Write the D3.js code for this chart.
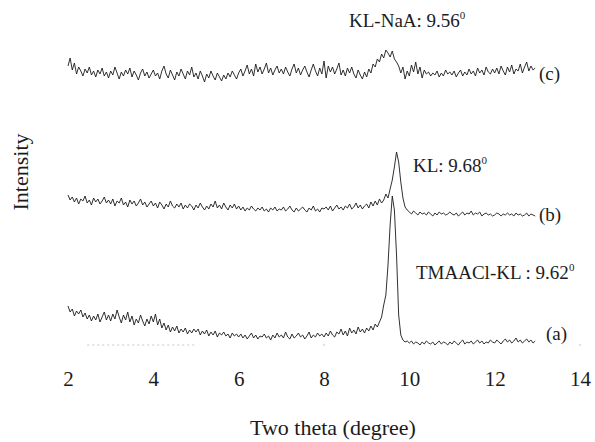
<!DOCTYPE html>
<html>
<head>
<meta charset="utf-8">
<script src="https://cdn.jsdelivr.net/npm/d3@7"></script>
<style>
  html, body { margin: 0; padding: 0; background: #fff; }
  svg { display: block; }
  text { font-family: "Liberation Serif", "DejaVu Serif", serif; fill: #1c1c1c; }
</style>
</head>
<body>
<svg id="chart" width="595" height="442"></svg>
<script>
// XRD scan grid: 2.00 .. 12.95 degrees two-theta, 0.05 degree step
const twoTheta = d3.range(0, 220).map(i => +(2 + i * 0.05).toFixed(2));

// Stacked intensities (a.u.), one row per degree of two-theta
// (c) KL-NaA
const seriesC = [
  284, 292, 280, 287, 276, 283, 279, 274, 281, 277, 283, 275, 279, 273, 280, 276, 282, 274, 278, 272,
  279, 275, 283, 277, 271, 278, 274, 280, 276, 282, 273, 279, 275, 270, 277, 281, 274, 278, 272, 276,
  280, 274, 277, 271, 279, 284, 276, 272, 280, 275, 270, 278, 274, 281, 276, 271, 279, 275, 283, 273,
  277, 271, 279, 274, 268, 276, 272, 279, 274, 270, 277, 273, 269, 275, 271, 277, 273, 279, 275, 271,
  277, 281, 274, 279, 285, 276, 281, 274, 286, 278, 283, 276, 281, 287, 277, 282, 275, 280, 284, 277,
  281, 276, 283, 278, 274, 281, 286, 277, 282, 275, 280, 284, 278, 273, 280, 286, 279, 274, 282, 276,
  289, 272, 284, 278, 283, 276, 281, 287, 275, 280, 274, 282, 277, 283, 276, 272, 280, 275, 271, 278,
  273, 281, 277, 286, 283, 291, 288, 296, 292, 300, 297, 293, 299, 291, 288, 284, 277, 283, 271, 279,
  274, 285, 278, 288, 276, 283, 272, 280, 276, 278, 274, 277, 275, 279, 273, 277, 274, 280, 276, 278,
  275, 279, 273, 277, 280, 274, 278, 275, 281, 276, 279, 274, 282, 277, 280, 275, 283, 278, 276, 281,
  277, 282, 276, 284, 279, 275, 283, 278, 285, 276, 281, 279, 286, 277, 283, 288, 279, 284, 280, 282
];
// (b) KL
const seriesB = [
  155, 150, 153, 148, 152, 146, 151, 149, 154, 147, 150, 145, 152, 148, 151, 146, 149, 153, 147, 150,
  146, 151, 144, 149, 147, 152, 145, 148, 143, 150, 146, 149, 144, 147, 151, 145, 148, 143, 146, 149,
  144, 147, 142, 148, 145, 141, 146, 143, 149, 144, 142, 146, 143, 147, 141, 145, 142, 146, 144, 140,
  145, 142, 147, 143, 140, 144, 141, 146, 143, 149, 142, 145, 141, 147, 143, 140, 145, 142, 146, 141,
  144, 140, 143, 139, 142, 140, 144, 141, 139, 142, 140, 143, 139, 141, 138, 142, 140, 143, 139, 141,
  140, 143, 139, 141, 144, 140, 138, 142, 139, 141, 143, 140, 138, 142, 140, 144, 139, 141, 138, 142,
  141, 143, 140, 144, 139, 142, 145, 141, 143, 140, 144, 142, 146, 141, 143, 147, 142, 145, 141, 144,
  146, 142, 148, 144, 149, 145, 151, 147, 150, 156, 152, 161, 170, 183, 198, 188, 168, 152, 143, 140,
  138, 136, 139, 137, 135, 138, 136, 137, 135, 138, 136, 134, 137, 135, 138, 136, 137, 135, 136, 138,
  136, 135, 137, 134, 136, 138, 135, 137, 136, 139, 135, 137, 136, 138, 134, 136, 137, 135, 136, 134,
  135, 137, 136, 134, 136, 135, 137, 135, 136, 134, 137, 135, 136, 134, 135, 137, 134, 136, 135, 134
];
// (a) TMAACl-KL
const seriesA = [
  44, 38, 41, 34, 39, 36, 40, 33, 37, 31, 35, 29, 34, 30, 36, 28, 33, 38, 30, 35,
  29, 36, 31, 40, 33, 27, 35, 30, 38, 28, 34, 25, 31, 27, 35, 29, 24, 31, 26, 34,
  28, 36, 25, 31, 22, 27, 20, 25, 18, 23, 19, 24, 17, 21, 18, 22, 16, 20, 17, 21,
  18, 21, 15, 19, 16, 20, 14, 18, 15, 19, 13, 17, 15, 18, 14, 16, 12, 17, 14, 16,
  13, 16, 12, 15, 11, 14, 17, 12, 15, 11, 14, 13, 16, 12, 14, 10, 15, 12, 17, 13,
  15, 12, 18, 13, 11, 16, 12, 14, 17, 13, 15, 11, 14, 18, 12, 15, 13, 17, 14, 16,
  13, 17, 14, 19, 15, 13, 18, 16, 21, 15, 19, 14, 22, 17, 20, 16, 23, 18, 21, 17,
  22, 19, 24, 20, 26, 23, 28, 33, 45, 55, 85, 125, 154, 140, 95, 35, 15, 10, 8, 9,
  7, 9, 6, 8, 7, 5, 8, 6, 9, 7, 6, 8, 5, 7, 9, 6, 8, 7, 5, 8,
  6, 9, 7, 5, 8, 10, 6, 8, 7, 9, 6, 8, 10, 7, 9, 6, 8, 7, 10, 8,
  7, 10, 8, 6, 9, 11, 8, 10, 7, 9, 12, 8, 10, 7, 9, 11, 8, 10, 7, 9
];

const xTicks = [2, 4, 6, 8, 10, 12, 14];
const sampleTags = ["(c)", "(b)", "(a)"];
const peakNames = ["KL-NaA: 9.56", "KL: 9.68", "TMAACl-KL : 9.62"];

const svg = d3.select("#chart");
svg.append("rect").attr("width", 595).attr("height", 442).attr("fill", "#fff");

const x = d3.scaleLinear().domain([2, 14]).range([68, 580]);
const y = d3.scaleLinear().domain([0, 310]).range([350, 40]);

// faint remnants of the frame
const frame = svg.append("g").attr("stroke", "#c8c8c8").attr("stroke-width", 1);
frame.append("line")
  .attr("x1", x(2.45)).attr("x2", x(5.0))
  .attr("y1", y(5)).attr("y2", y(5))
  .attr("stroke-dasharray", "2,3");
[8, 14].forEach(v => {
  frame.append("line")
    .attr("x1", x(v) - 1).attr("x2", x(v) + 1)
    .attr("y1", y(5)).attr("y2", y(5));
});

// x axis: labels only
const xAxis = d3.axisBottom(x).tickValues(xTicks).tickSize(0).tickPadding(0)
  .tickFormat(d3.format("d"));
const gx = svg.append("g").attr("transform", "translate(0,371)").call(xAxis);
gx.select(".domain").remove();
gx.selectAll("text")
  .attr("font-family", "Liberation Serif, serif")
  .attr("font-size", 21)
  .attr("fill", "#1c1c1c")
  .attr("dy", "0.71em");

// traces
const line = d3.line().x((d, i) => x(twoTheta[i])).y(d => y(d));
[seriesC, seriesB, seriesA].forEach(s => {
  svg.append("path")
    .datum(s)
    .attr("d", line)
    .attr("fill", "none")
    .attr("stroke", "#1a1a1a")
    .attr("stroke-width", 0.9)
    .attr("stroke-linejoin", "round");
});

// peak annotations with a superscript degree zero
const peakPos = [[349, 27], [413, 172], [416, 279]];
peakNames.forEach((t, i) => {
  const txt = svg.append("text")
    .attr("x", peakPos[i][0]).attr("y", peakPos[i][1])
    .attr("font-size", 19);
  txt.append("tspan").text(t);
  txt.append("tspan").attr("font-size", 11).attr("dy", -8).text("0");
});

// sample tags
const tagPos = [[539, 80], [539, 221], [546, 340]];
sampleTags.forEach((t, i) => {
  svg.append("text")
    .attr("x", tagPos[i][0]).attr("y", tagPos[i][1])
    .attr("font-size", 19)
    .text(t);
});

// axis titles
svg.append("text")
  .attr("x", 333).attr("y", 435)
  .attr("text-anchor", "middle")
  .attr("font-size", 22)
  .text("Two theta (degree)");

svg.append("text")
  .attr("transform", "translate(28,172) rotate(-90)")
  .attr("text-anchor", "middle")
  .attr("font-size", 22)
  .text("Intensity");
</script>
</body>
</html>
